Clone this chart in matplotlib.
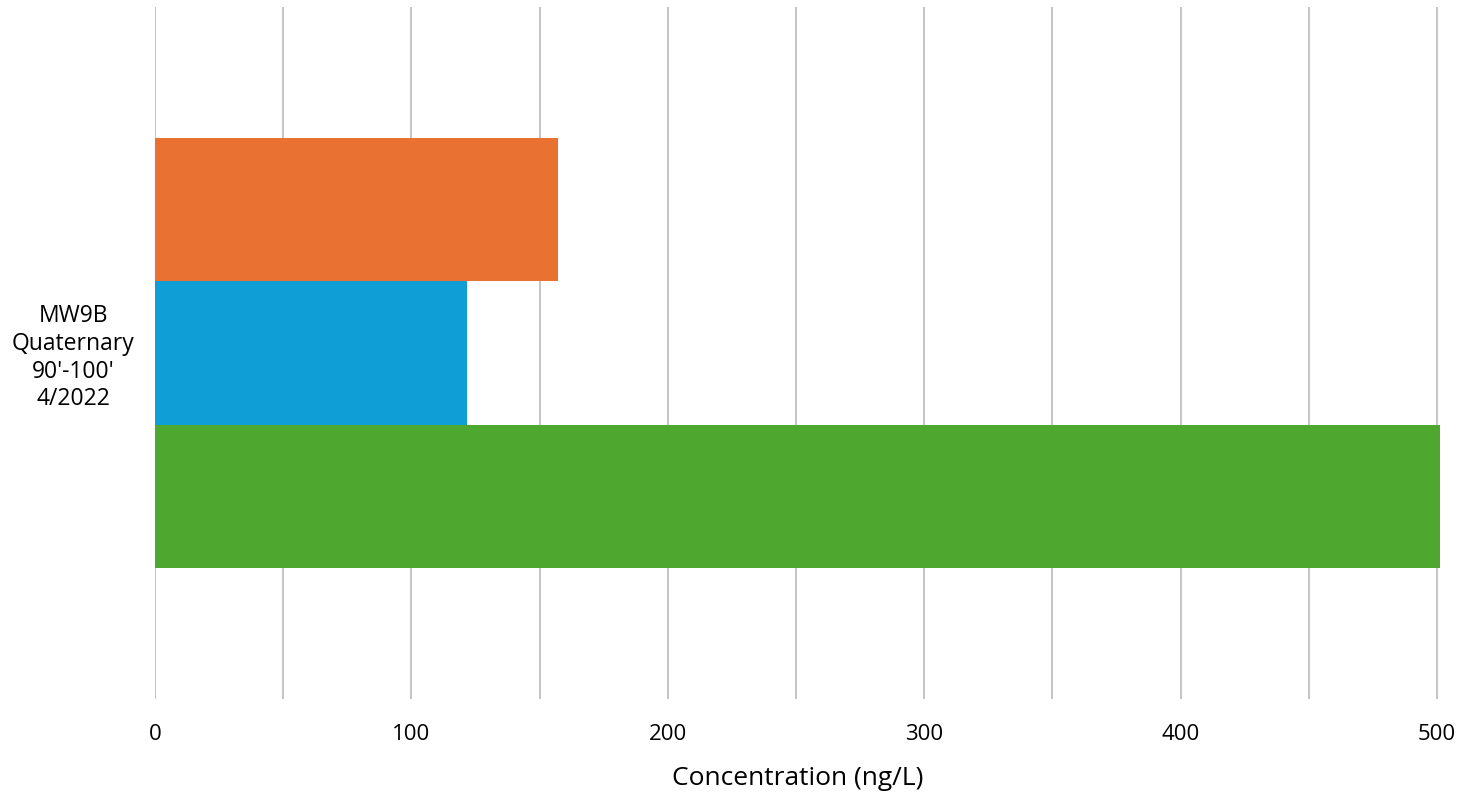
import numpy as np
import matplotlib
matplotlib.use("Agg")
import matplotlib.pyplot as plt

plt.rcParams['font.family'] = ['Open Sans', 'DejaVu Sans']

# data
category = "MW9B\nQuaternary\n90'-100'\n4/2022"
series_names = ["Series 1", "Series 2", "Series 3"]   # bottom to top
series_values = [501, 121.5, 157.3]
series_colors = ["#4EA72E", "#0F9ED5", "#E97132"]
x_ticks = [0, 100, 200, 300, 400, 500]

fig = plt.figure(figsize=(14.6, 7.92), dpi=100)
ax = fig.add_axes([155 / 1460, 1 - 699 / 792, (1439.5 - 155) / 1460, 692 / 792])

bar_h = 0.2076
n = len(series_values)
for i, (name, val, col) in enumerate(zip(series_names, series_values, series_colors)):
    offset = (i - (n - 1) / 2) * bar_h
    ax.barh(0 + offset, val, height=bar_h, color=col, label=name, zorder=3)

ax.set_ylim(-0.5, 0.5)
ax.set_xlim(0, 501)
ax.set_xticks(x_ticks)
ax.set_xticks(np.arange(50, 500, 100), minor=True)
ax.grid(axis='x', which='both', color='#c4c4c4', linewidth=1.4, zorder=0)
ax.set_yticks([0])
ax.set_yticklabels([category], ha='center', multialignment='center',
                   fontsize=16.5, linespacing=1.2)
ax.tick_params(axis='y', length=0, pad=59)
ax.tick_params(axis='x', which='both', length=0, labelsize=16, pad=18)
for s in ax.spines.values():
    s.set_visible(False)
ax.set_xlabel("Concentration (ng/L)", fontsize=19, labelpad=15)

fig.savefig("out.png", dpi=100)
